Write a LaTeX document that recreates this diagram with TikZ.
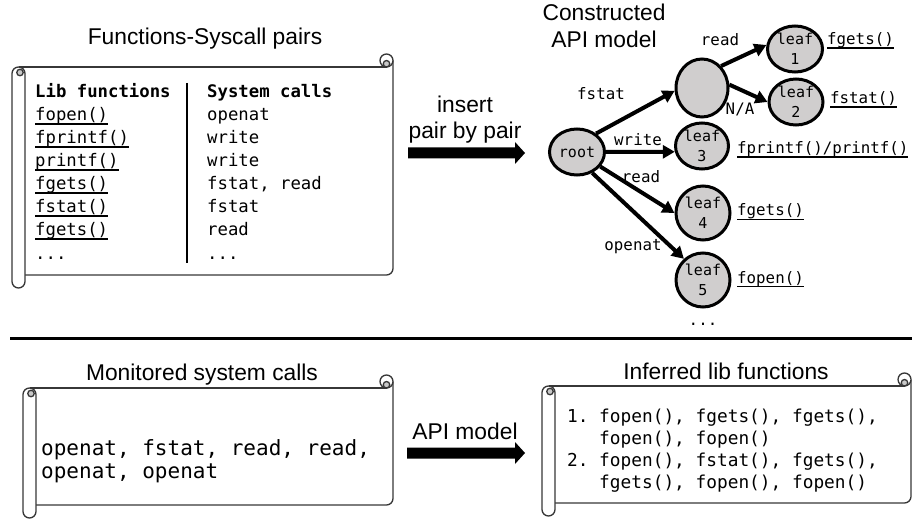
\documentclass[tikz,border=0pt]{standalone}
\usepackage{fontspec}
\setmainfont{Liberation Sans}
\newfontfamily\monofam{DejaVu Sans Mono}
\usetikzlibrary{shapes.geometric,arrows.meta}
\definecolor{nodegray}{RGB}{208,206,206}
\definecolor{scrollcol}{RGB}{55,55,55}
\definecolor{curlgray}{RGB}{200,200,200}
\newcommand\ulin[1]{\setbox0\hbox{#1}\rlap{\rule[-3.6pt]{\wd0}{1.1pt}}\box0}
\newcommand\drawscroll[4]{%
 \draw[scrollln] (#3,-#2-6.5) -- (#3,-#4+19.5) arc (0:-90:6.5) -- (#1+13,-#4+13);
 \draw[scrollln] (#1+6.5,-#2-13) -- (#3-6.5,-#2-13);
 \draw[scrollln,fill=white] (#3-6.5,-#2-6.5) circle (6.5);
 \draw[scrollln,fill=curlgray] (#3-6.5,-#2-9.75) circle (3.25);
 \draw[scrollln,fill=white] (#1,-#2-19.5) arc (180:0:6.5) -- (#1+13,-#4+6.5) arc (0:-180:6.5) -- cycle;
 \draw[scrollln,fill=curlgray] (#1+8,-#2-18.5) circle (3.25);
}
\tikzset{
 scrollln/.style={draw=scrollcol,line width=1.3},
 title/.style={font=\fontsize{22.8}{26}\selectfont,inner sep=0,anchor=base},
 tbl/.style={font=\monofam\fontsize{17.3}{23}\selectfont,inner sep=0,anchor=base west},
 mon/.style={font=\monofam\fontsize{21}{20}\selectfont,inner sep=0,anchor=base west},
 inf/.style={font=\monofam\fontsize{17.8}{22}\selectfont,inner sep=0,anchor=base west},
 tlab/.style={font=\monofam\fontsize{15.8}{20}\selectfont,inner sep=0},
 tnode/.style={ellipse,draw,line width=3,fill=nodegray,inner sep=0,align=center,
   font=\monofam\fontsize{15}{20}\selectfont},
 tedge/.style={line width=4,-{Triangle[length=12,width=13]}},
 blockarrow/.style={fill=black},
}
\begin{document}
\begin{tikzpicture}[x=1pt,y=1pt]
\useasboundingbox (0,0) rectangle (912,-521);
% ---------- top left ----------
\node[title] (t1) at (205,-45) {Functions-Syscall pairs};
\drawscroll{12}{54}{393}{288}
\node[tbl,font=\monofam\bfseries\fontsize{17.3}{23}\selectfont] (h1) at (35,-98) {Lib functions};
\node[tbl,font=\monofam\bfseries\fontsize{17.3}{23}\selectfont] (h2) at (207,-98) {System calls};
\node[tbl] (a1) at (35,-121) {\ulin{fopen()}};
\node[tbl] (a2) at (35,-144) {\ulin{fprintf()}};
\node[tbl] (a3) at (35,-167) {\ulin{printf()}};
\node[tbl] (a4) at (35,-190) {\ulin{fgets()}};
\node[tbl] (a5) at (35,-213) {\ulin{fstat()}};
\node[tbl] (a6) at (35,-236) {\ulin{fgets()}};
\node[tbl] (a7) at (35,-259) {...};
\node[tbl] (b1) at (207,-121) {openat};
\node[tbl] (b2) at (207,-144) {write};
\node[tbl] (b3) at (207,-167) {write};
\node[tbl] (b4) at (207,-190) {fstat, read};
\node[tbl] (b5) at (207,-213) {fstat};
\node[tbl] (b6) at (207,-236) {read};
\node[tbl] (b7) at (207,-259) {...};
\coordinate (d1) at (187,-83);
\coordinate (d2) at (187,-263);
\draw[line width=2] (d1) -- (d2);
% ---------- insert arrow ----------
\node[title] (ins1) at (465,-113) {insert};
\node[title] (ins2) at (465,-139) {pair by pair};
\fill[blockarrow] (408,-147.5) -- (515,-147.5) -- (515,-142) -- (525,-153) -- (515,-164) -- (515,-158.5) -- (408,-158.5) -- cycle;
% ---------- tree ----------
\node[title] (c1) at (604,-21) {Constructed};
\node[title] (c2) at (604,-48) {API model};
\node[tnode,minimum width=55,minimum height=46] (root) at (577,-152) {root};
\node[tnode,minimum width=52,minimum height=58] (mid) at (702,-88) {};
\node[tnode,minimum width=55,minimum height=46] (leaf1) at (795,-49) {leaf\\1};
\node[tnode,minimum width=54,minimum height=46] (leaf2) at (796,-102) {leaf\\2};
\node[tnode,minimum width=53,minimum height=46] (leaf3) at (702,-146) {leaf\\3};
\node[tnode,minimum width=54,minimum height=54] (leaf4) at (703,-213) {leaf\\4};
\node[tnode,minimum width=54,minimum height=54] (leaf5) at (703,-280) {leaf\\5};
\draw[tedge] (root.44) -- (mid.186);
\draw[tedge] (mid.49) -- (leaf1.172);
\draw[tedge] (mid.7) -- (leaf2.180);
\draw[tedge] (root.0) -- (leaf3.192);
\draw[tedge] (root.-32) -- (leaf4.180);
\draw[tedge] (root.-54) -- (leaf5.132);
\node[tlab] (e1) at (720,-40) {read};
\node[tlab] (e2) at (601,-94) {fstat};
\node[tlab] (e3) at (740,-109) {N/A};
\node[tlab] (e4) at (638,-140) {write};
\node[tlab] (e5) at (641,-177) {read};
\node[tlab] (e6) at (633,-247) {openat};
\node[tlab,anchor=base west] (g1) at (827,-45) {\ulin{fgets()}};
\node[tlab,anchor=base west] (g2) at (830,-104) {\ulin{fstat()}};
\node[tlab,anchor=base west] (g3) at (737,-154) {\ulin{fprintf()/printf()}};
\node[tlab,anchor=base west] (g4) at (737,-216) {\ulin{fgets()}};
\node[tlab,anchor=base west] (g5) at (737,-283) {\ulin{fopen()}};
\node[tlab,anchor=base] (g6) at (703,-325) {...};
% ---------- divider ----------
\coordinate (s1) at (10,-338);
\coordinate (s2) at (912,-338);
\draw[line width=3] (s1) -- (s2);
% ---------- bottom left ----------
\node[title] (t2) at (202,-380) {Monitored system calls};
\drawscroll{23}{375}{393}{518}
\node[mon] (m1) at (41,-455) {openat, fstat, read, read,};
\node[mon] (m2) at (41,-478) {openat, openat};
% ---------- API model arrow ----------
\node[title] (api) at (465,-439) {API model};
\fill[blockarrow] (407,-447.5) -- (515,-447.5) -- (515,-442) -- (525,-453) -- (515,-464) -- (515,-458.5) -- (407,-458.5) -- cycle;
% ---------- bottom right ----------
\node[title] (t3) at (726,-379) {Inferred lib functions};
\drawscroll{542}{373}{911}{516}
\node[inf] (n1) at (567,-422) {1.};
\node[inf] (i1) at (599,-422) {fopen(), fgets(), fgets(),};
\node[inf] (i2) at (599,-444) {fopen(), fopen()};
\node[inf] (n2) at (567,-466) {2.};
\node[inf] (i3) at (599,-466) {fopen(), fstat(), fgets(),};
\node[inf] (i4) at (599,-488) {fgets(), fopen(), fopen()};
\end{tikzpicture}
\end{document}
